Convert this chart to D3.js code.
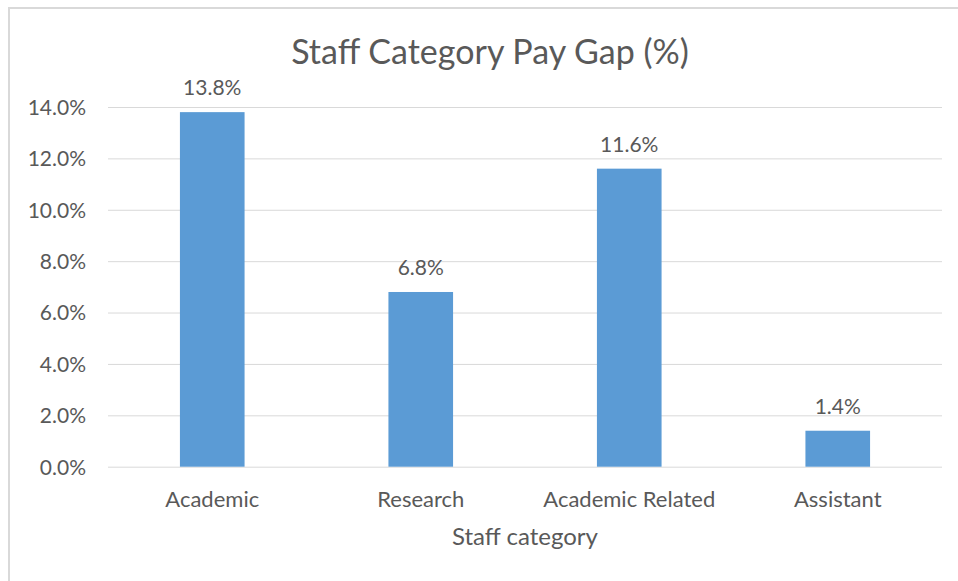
<!DOCTYPE html>
<html>
	<head>
		<meta charset="utf-8">
		<title>Staff Category Pay Gap</title>
		<style>
			body { margin: 0; background: #fff; }
			#chart text { font-family: Lato, "Open Sans", sans-serif; fill: #595959; }
			#chart .grid line { stroke: #d9d9d9; stroke-width: 1px; }
			#chart rect.bar { fill: #5b9bd5; }
		</style>
		<script src="https://d3js.org/d3.v7.min.js" charset="utf-8"></script>
	</head>
	<body>
		<svg id="chart" width="958" height="581"></svg>
		<script>
		// data
		var categories = ["Academic", "Research", "Academic Related", "Assistant"];
		var payGap = [13.8, 6.8, 11.6, 1.4];
		var tickValues = [0, 2, 4, 6, 8, 10, 12, 14];

		var svg = d3.select("#chart");
		var plotLeft = 108, plotRight = 942, plotTop = 107, plotBottom = 466.7;

		// outer frame (runs off the right and bottom edges)
		svg.append("rect")
			.attr("x", 9).attr("y", 8)
			.attr("width", 1000).attr("height", 650)
			.attr("fill", "#fff")
			.attr("stroke", "#d9d9d9")
			.attr("stroke-width", 2);

		var x = d3.scaleBand()
			.domain(categories)
			.range([plotLeft, plotRight])
			.paddingInner(0.69)
			.paddingOuter(0.345);

		var y = d3.scaleLinear()
			.domain([0, 14])
			.range([plotBottom, plotTop]);

		// gridlines + y labels
		var yAxis = svg.append("g")
			.attr("class", "grid")
			.attr("transform", "translate(" + plotLeft + ",0)")
			.call(d3.axisLeft(y)
				.tickValues(tickValues)
				.tickSize(-(plotRight - plotLeft))
				.tickPadding(22)
				.tickFormat(function(d){ return d.toFixed(1) + "%"; }));
		yAxis.select(".domain").remove();
		yAxis.selectAll("text")
			.attr("dy", "0.35em")
			.style("font-size", "21px");

		// bars
		svg.selectAll("rect.bar")
			.data(payGap)
			.enter()
			.append("rect")
			.attr("class", "bar")
			.attr("x", function(d, i){ return x(categories[i]); })
			.attr("y", function(d){ return y(d); })
			.attr("width", x.bandwidth())
			.attr("height", function(d){ return y(0) - y(d); });

		// value labels
		svg.selectAll("text.value")
			.data(payGap)
			.enter()
			.append("text")
			.attr("class", "value")
			.attr("x", function(d, i){ return x(categories[i]) + x.bandwidth() / 2; })
			.attr("y", function(d){ return y(d) - 17; })
			.attr("text-anchor", "middle")
			.style("font-size", "21px")
			.text(function(d){ return d.toFixed(1) + "%"; });

		// category labels
		var xAxis = svg.append("g")
			.attr("transform", "translate(0," + plotBottom + ")")
			.call(d3.axisBottom(x).tickSize(0).tickPadding(0));
		xAxis.select(".domain").remove();
		xAxis.selectAll("text")
			.attr("y", 40)
			.attr("dy", 0)
			.style("font-size", "22px");

		// titles
		svg.append("text")
			.attr("x", (plotLeft + plotRight) / 2 - 35)
			.attr("y", 64)
			.attr("text-anchor", "middle")
			.style("font-size", "34px")
			.text("Staff Category Pay Gap (%)");

		svg.append("text")
			.attr("x", (plotLeft + plotRight) / 2)
			.attr("y", 545)
			.attr("text-anchor", "middle")
			.style("font-size", "24px")
			.text("Staff category");
		</script>
	</body>
</html>
